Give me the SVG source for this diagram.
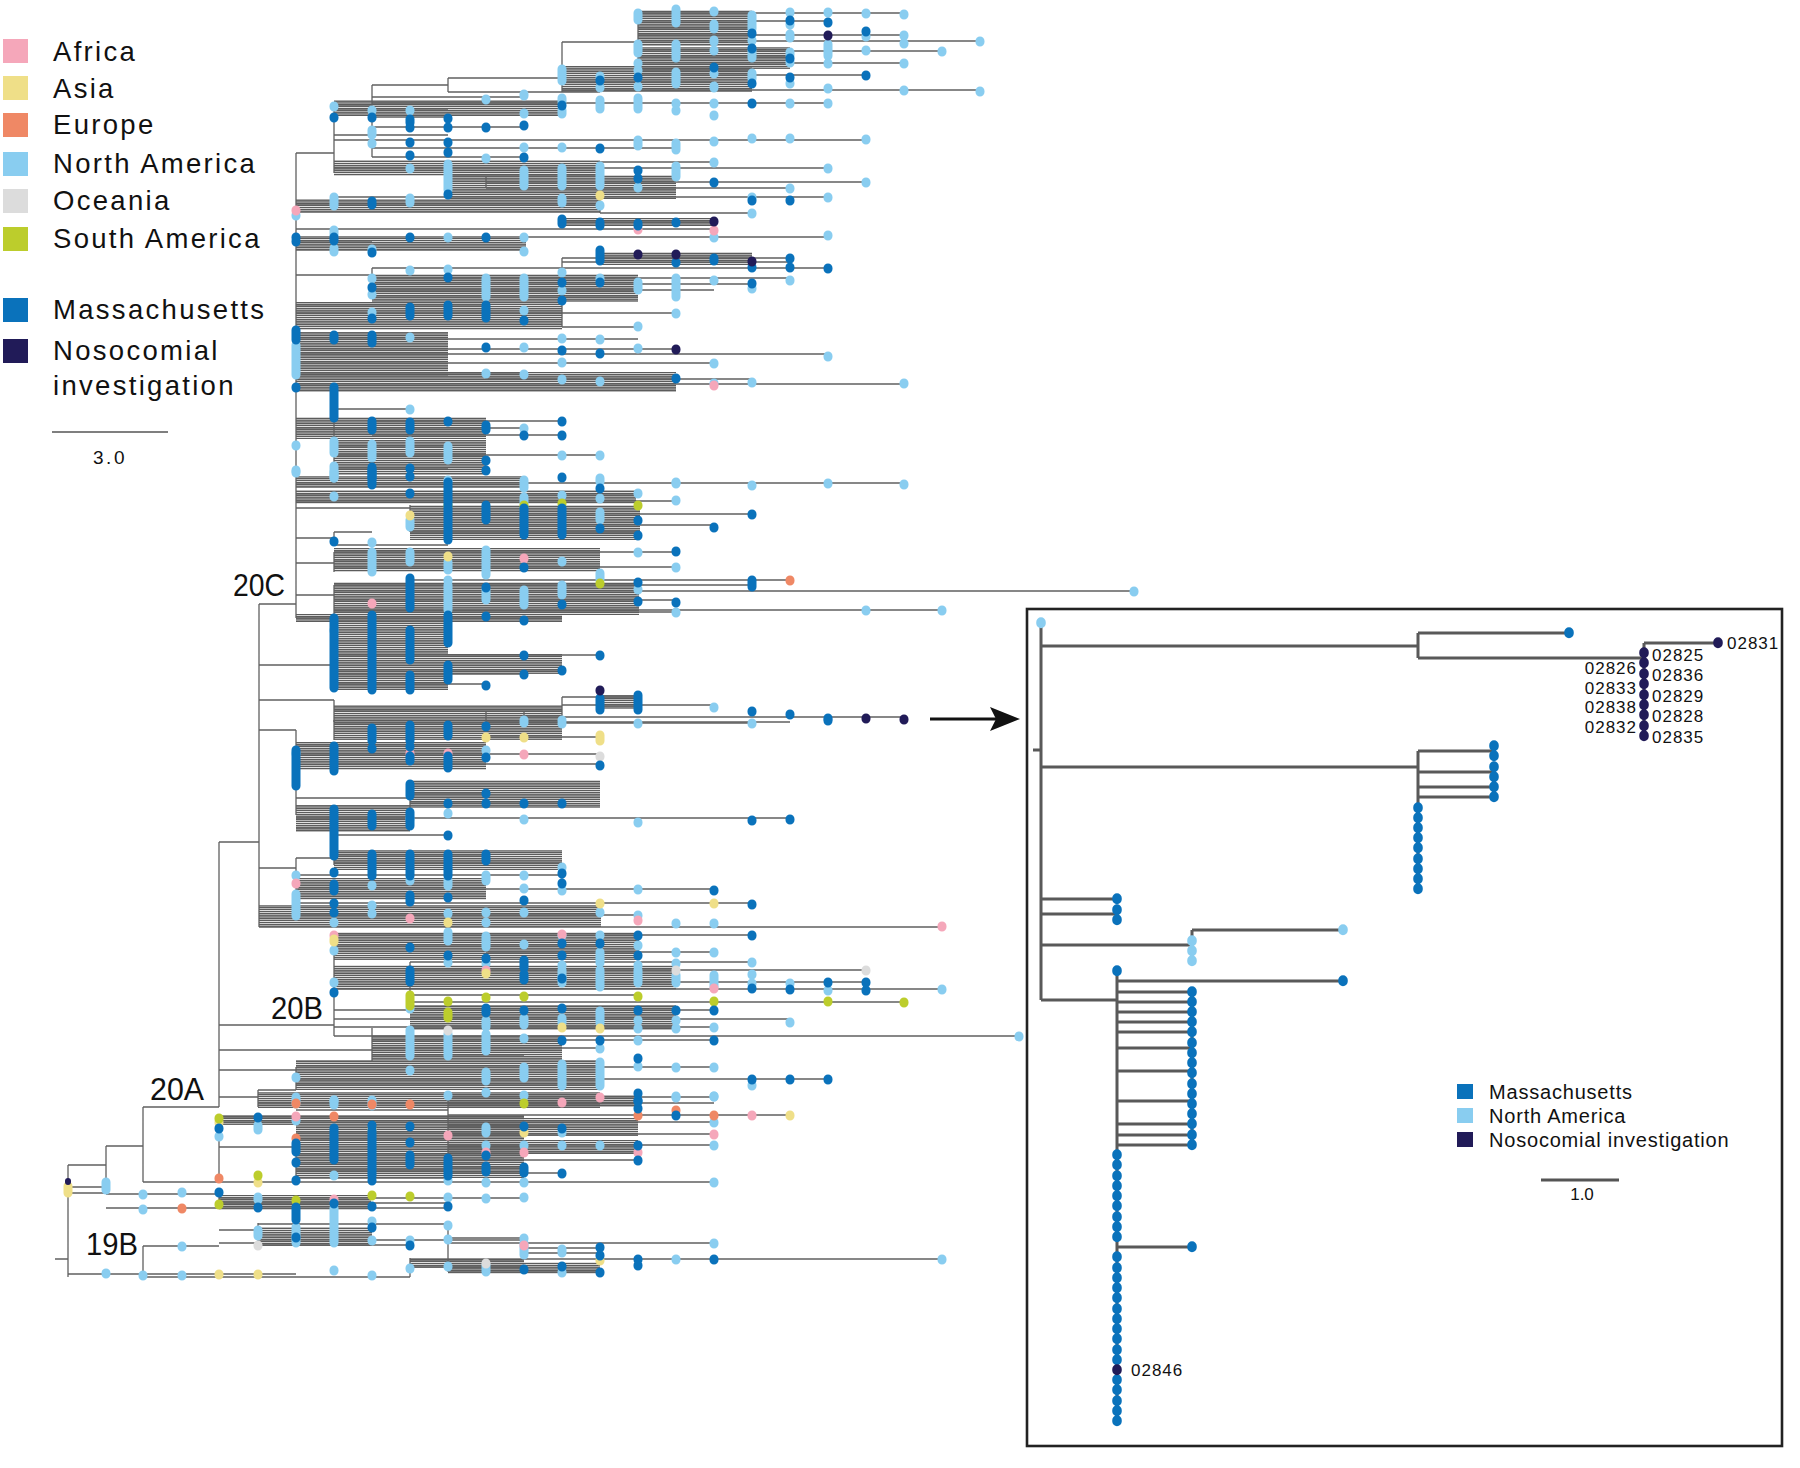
<svg xmlns="http://www.w3.org/2000/svg" width="1800" height="1468" viewBox="0 0 1800 1468">
<defs>
<pattern id="hp" width="8" height="2.2" patternUnits="userSpaceOnUse"><rect width="8" height="1.55" fill="#5c5c5c"/></pattern>
<style>
.br{fill:none;stroke:#606060;stroke-width:1.3}
.blk{fill:url(#hp)}
.d{fill:none;stroke-width:9;stroke-linecap:round}
.id{fill:none;stroke-width:9.5;stroke-linecap:round}
.n{stroke:#89cdf0}.m{stroke:#0a72bb}.x{stroke:#211b58}.a{stroke:#f5a7ba}.s{stroke:#efdf88}.e{stroke:#ef8865}.o{stroke:#dcdcdc}.g{stroke:#bccd2c}
.fn{fill:#89cdf0}.fm{fill:#0a72bb}.fx{fill:#211b58}.fa{fill:#f5a7ba}.fs{fill:#efdf88}.fe{fill:#ef8865}.fo{fill:#dcdcdc}.fg{fill:#bccd2c}
.lg{font-family:"Liberation Sans",Arial,sans-serif;font-size:27.5px;letter-spacing:2.3px;fill:#111}
.cl{font-family:"Liberation Sans",Arial,sans-serif;font-size:32px;fill:#111}
.ib{fill:none;stroke:#595959;stroke-width:3}
.lb{font-family:"Liberation Sans",Arial,sans-serif;font-size:17px;letter-spacing:1px;fill:#111}
.il{font-family:"Liberation Sans",Arial,sans-serif;font-size:20px;letter-spacing:0.8px;fill:#111}
</style>
</defs>
<rect width="1800" height="1468" fill="#fff"/>

<g id="legend">
<rect class="fa" x="3" y="39" width="25" height="24"/><text class="lg" x="53" y="61">Africa</text>
<rect class="fs" x="3" y="76" width="25" height="24"/><text class="lg" x="53" y="98">Asia</text>
<rect class="fe" x="3" y="113" width="25" height="24"/><text class="lg" x="53" y="134">Europe</text>
<rect class="fn" x="3" y="152" width="25" height="24"/><text class="lg" x="53" y="173">North America</text>
<rect class="fo" x="3" y="189" width="25" height="24"/><text class="lg" x="53" y="210">Oceania</text>
<rect class="fg" x="3" y="227" width="25" height="24"/><text class="lg" x="53" y="248">South America</text>
<rect class="fm" x="3" y="298" width="25" height="24"/><text class="lg" x="53" y="319">Massachusetts</text>
<rect class="fx" x="3" y="339" width="25" height="24"/><text class="lg" x="53" y="360">Nosocomial</text>
<text class="lg" x="53" y="395">investigation</text>
<path d="M52 432H168" stroke="#555" stroke-width="1.6"/>
<text x="110" y="464" text-anchor="middle" style="font-family:'Liberation Sans',Arial,sans-serif;font-size:19px;letter-spacing:2.5px" fill="#111">3.0</text>
</g>

<g id="dense">
<rect class="blk" x="638" y="10" width="114" height="36"/><rect class="blk" x="638" y="47" width="152" height="22"/><rect class="blk" x="562" y="66" width="190" height="26"/><rect class="blk" x="334" y="100" width="228" height="16"/><rect class="blk" x="334" y="160" width="266" height="16"/><rect class="blk" x="448" y="175" width="228" height="24"/><rect class="blk" x="296" y="199" width="304" height="14"/><rect class="blk" x="562" y="218" width="152" height="8"/>
<rect class="blk" x="296" y="238" width="230" height="12"/><rect class="blk" x="600" y="252" width="152" height="13"/><rect class="blk" x="372" y="274" width="266" height="28"/><rect class="blk" x="296" y="302" width="266" height="28"/><rect class="blk" x="296" y="332" width="152" height="44"/><rect class="blk" x="296" y="372" width="380" height="20"/><rect class="blk" x="296" y="417" width="190" height="22"/><rect class="blk" x="334" y="440" width="152" height="35"/><rect class="blk" x="296" y="476" width="230" height="12"/>
<rect class="blk" x="296" y="490" width="340" height="14"/><rect class="blk" x="410" y="505" width="230" height="35"/><rect class="blk" x="334" y="548" width="266" height="24"/><rect class="blk" x="334" y="582" width="305" height="33"/><rect class="blk" x="296" y="614" width="266" height="8"/><rect class="blk" x="334" y="620" width="114" height="70"/><rect class="blk" x="448" y="654" width="114" height="20"/><rect class="blk" x="600" y="695" width="40" height="14"/><rect class="blk" x="334" y="705" width="228" height="20"/>
<rect class="blk" x="334" y="720" width="228" height="20"/><rect class="blk" x="296" y="742" width="190" height="28"/><rect class="blk" x="410" y="780" width="190" height="28"/><rect class="blk" x="296" y="805" width="114" height="27"/><rect class="blk" x="334" y="850" width="228" height="20"/><rect class="blk" x="296" y="878" width="190" height="22"/><rect class="blk" x="259" y="905" width="342" height="22"/>
<rect class="blk" x="334" y="932" width="305" height="28"/><rect class="blk" x="334" y="965" width="342" height="25"/><rect class="blk" x="410" y="1005" width="266" height="25"/><rect class="blk" x="372" y="1035" width="190" height="25"/><rect class="blk" x="296" y="1060" width="304" height="30"/><rect class="blk" x="258" y="1092" width="342" height="16"/>
<rect class="blk" x="219" y="1115" width="305" height="10"/><rect class="blk" x="296" y="1125" width="228" height="53"/><rect class="blk" x="448" y="1095" width="192" height="12"/><rect class="blk" x="448" y="1118" width="190" height="18"/><rect class="blk" x="448" y="1140" width="190" height="14"/><rect class="blk" x="219" y="1195" width="152" height="15"/><rect class="blk" x="258" y="1227" width="114" height="19"/><rect class="blk" x="410" y="1258" width="114" height="10"/><rect class="blk" x="448" y="1262" width="152" height="12"/>
</g>

<g id="branches">
<path class="br" d="M296 153H334M334 106V173M334 106H372M372 85V118M372 85H448M448 78V92M448 78H562M562 42V92M562 42H638M638 10V80M638 13H904M638 21H828M638 28H752M638 35H904M638 41H980M638 51H942M638 57H790M638 63H904M638 70H752M638 75H866M562 82H714M562 90H980M448 92H600M372 97H524M372 103H828M334 110H448M372 117H448M372 127H524M334 135H448M334 140H866M372 148H676M372 157H524M600 162H714M334 168H828M448 176H600M486 182H866M486 188H790M334 197H828M296 205H600M600 213H752M562 222H714M296 229H714M296 237H828M600 162V213M486 176V188M562 218V222M372 97V157"/>
<path class="br" d="M296 241H372M296 250H524M562 258H790M562 262H790M562 268H828M372 268H562M372 278H790M372 284H752M372 290H714M372 297H638M296 305H486M296 313H676M562 327H638M296 339H638M296 349H676M296 354H828M296 363H714M296 373H524M486 379H752M296 384H904M334 409H410M372 421H562M296 428H524M372 435H562M334 447H448M334 455H600M334 468H448M296 483H904M372 268V297M562 258V268M334 405V468M372 421V435M486 373V379M296 275H372M562 305V327"/>
<path class="br" d="M296 495H638M296 501H676M410 514H752M410 525H714M410 532H638M410 505V532M296 508H410M296 538H334M334 532V545M334 532H372M334 545H448M296 563H334M334 552V572M334 552H676M334 560H562M334 567H676M296 595H334M334 585V615M410 580H790M410 585H752M410 575V590M334 585H410M334 591H1134M334 600H676M334 610H942M334 612H676M296 618H562M296 153V618M259 604H296M259 604V927M259 665H334M334 622V690M334 655H600M334 670H562M334 674H524M334 684H486M259 700H334M334 700V722M562 697H638M562 705H714M524 717H904M486 722H790M334 711H562M562 697V717M524 711V722M486 711V722"/>
<path class="br" d="M259 730H296M296 730V815M334 720V740M334 723H752M486 737H600M296 745H486M296 754H600M334 764H600M296 798H410M410 780V810M410 793H486M410 803H562M296 818H790M334 835H448M296 828H334M334 810V835M259 868H296M296 858V920M334 850V865M296 858H334M334 855H486M334 863H562M296 875H562M296 889H714M296 903H752M296 915H638M259 927H942"/>
<path class="br" d="M219 842V1107M219 842H259M219 1025H334M334 932V1036M334 935H752M334 945H600M486 952H714M410 962H752M410 970H866M410 982H866M334 989H942M410 995H638M410 1002H904M334 1010H714M334 1019H790M334 1027H714M334 1036H1019M410 962V1002M219 1050H372M372 1028V1062M410 1040H714M372 1048H600M372 1056H524M372 1040H410M219 1070H296M296 1067V1090M296 1067H714M410 1079H828M296 1085H600M296 1079H410M219 1097H258M258 1090V1107M258 1090H296M258 1103H714"/>
<path class="br" d="M55 1259H68M68 1165V1277M68 1165H106M106 1146V1194M106 1146H143M143 1107V1182M143 1107H219M143 1182H219M219 1117V1182M219 1117H524M219 1122H524M296 1132H524M219 1147H296M296 1135V1178M296 1140H448M296 1155H524M296 1163H486M296 1170H448M296 1178H448M219 1182H524M448 1097H714M448 1103H638M448 1115H790M448 1122H714M448 1126H562M448 1134H714M448 1145H714M448 1152H638M448 1160H638M448 1168H524M448 1173H562M448 1182H714M448 1097V1182M296 1110H448M68 1187H106M68 1193H106M106 1194H219M106 1208H219M219 1194V1208M219 1198H524M219 1203H448M219 1208H448M258 1224H448M258 1223V1245M219 1230H258M258 1240H524M258 1245H410M143 1246H219M219 1243H258M143 1246V1277M410 1261H524M410 1266H524M68 1274H296M143 1277H410M448 1238H524M448 1243H714M524 1248H600M524 1253H600M524 1259H942M448 1268H524M448 1272H600M448 1224V1272M410 1258V1277"/>
</g>

<g id="tips">
<path class="d n" d="M638 13V20M638 44V53M638 63v1M638 70v1M638 86v1M676 9V23M676 44V58M676 72V84M676 103v1M676 110v1M714 11v1M714 24V29M714 40v2M714 50v1M714 73v1M714 86v2M714 103v1M714 115v1M752 15V29M752 40v1M752 51V58M752 73V79M790 12v1M790 24v1M790 34V38M790 52V55M790 62v1M790 83v1M790 103v1M828 12v1M828 44V56M828 63v1M828 88v1M828 103v1M866 13v1M866 36v1M866 50v1M904 14v1M904 35v1M904 43v1M904 63v1M904 90v1M942 51v1M980 41v1M980 91v1M562 69V81M562 98V102M562 110V114M600 76v1M600 87v1M600 100V109M638 98V109M524 94V96M524 113v1M486 99v1M334 106v1M372 110v1M410 110v1M372 130V135M372 143v1M524 147v1M562 147v1M638 140V146M676 143V150M714 141v1M752 138v1M790 138v1M866 139v1M486 158v1M714 162v1M828 168v1M448 164V190M524 170V186M562 168V186M600 166V186M676 166V177M638 187v1M866 182v1M790 188v1M828 197v1M752 197v1M334 197V206M410 198V203M562 198V203M600 205v1M752 213v1M296 215v1M448 237v1M524 237v1M714 237v1M828 235v1M410 168v1M334 230V235"/>
<path class="d n" d="M334 248V252M372 249v1M524 251v1M410 270v1M448 269v1M372 278v1M372 294v1M486 278V297M524 278V297M562 272v1M562 290v1M600 278v1M638 282V290M676 278V297M714 280v1M752 288v1M790 280v1M372 312v1M524 310v1M676 313v1M638 326v1M296 345V375M410 337v1M562 338v1M600 339v1M524 347v1M638 348v1M828 356v1M562 362v1M714 363v1M486 373v1M524 374v1M562 379v1M600 381v1M714 383v1M752 382v1M904 383v1M410 409v1M524 428v1M296 445v1M334 441V453M372 444V458M410 441V453M448 446V460M562 455v1M600 455v1M296 470v1M334 466V478M448 480v1M600 481v1M676 483v1M752 485v1M828 483v1M904 484v1"/>
<path class="d n" d="M296 472v1M334 472V478M524 480V488M600 478v1M676 482v1M334 496v1M562 495v1M600 498v1M638 493v1M676 500v1M524 497V503M410 520V527M600 512V520M372 542v1M372 552V572M410 552V562M448 562V570M448 580v1M486 550V575M562 561v1M638 552v1M676 567v1M448 585V610M486 590V600M524 590V605M562 585V595M600 573V580M638 589v1M942 610v1M866 610v1M676 612v1M1134 591v1M334 630v1M714 707v1M562 720v1M524 720v1M296 753v1M486 750v1M524 722v1M562 723v1M638 723v1M752 723v1M448 813v1M410 818v1M524 819v1M638 822v1M562 867v1M524 875v1M296 875v1M372 885v1M410 880v1M448 880V886M486 875V881M524 888v1M562 890v1M638 889v1M296 894V916M334 922v1M372 905v1M372 913v1M448 913v1M486 912v1M486 922v1M524 912v1M600 912v1M638 915v1M676 923v1M714 923v1"/>
<path class="d n" d="M334 950v1M448 932V941M486 936V947M524 944v1M562 935v1M600 935v1M638 945v1M448 962v1M486 963v1M562 965v1M600 952V963M638 965v1M676 952v1M676 963v1M714 952v1M752 962v1M334 982v1M562 970V983M600 970V987M638 970V983M676 975V983M714 975V987M752 974v1M752 983v1M790 983v1M828 990v1M942 989v1M410 1008v1M486 1020V1027M524 1018V1025M562 1018V1023M600 1011V1023M638 1020v1M638 1028v1M676 1020v1M676 1028v1M714 1027v1M790 1022v1M410 1030V1056M448 1034V1056M486 1034V1051M524 1038v1M600 1048v1M638 1040v1M296 1077v1M410 1070v1M486 1072V1081M524 1067V1078M562 1064V1086M600 1062V1086M638 1066v1M676 1067v1M714 1067v1M752 1085v1M296 1097V1104M334 1100v1M448 1095v1M676 1096v1M714 1096v1M1019 1036v1"/>
<path class="d n" d="M106 1182V1190M143 1194v1M182 1192v1M258 1197V1200M334 1208V1220M448 1197v1M486 1198v1M524 1197v1M448 1225v1M372 1221v1M258 1230V1236M296 1227V1243M334 1215V1243M372 1240v1M410 1240v1M448 1239v1M524 1238v1M182 1246v1M334 1270v1M372 1275v1M410 1268v1M448 1266v1M486 1268V1272M106 1273v1M143 1275v1M182 1275v1M143 1209v1M486 1092v1M524 1095v1M676 1097v1M714 1096v1M714 1122v1M486 1127V1133M562 1132v1M486 1145v1M524 1145v1M562 1145v1M600 1145v1M714 1145v1M524 1182v1M714 1182v1M714 1243v1M524 1243V1255M562 1249V1253M676 1259v1M942 1259v1M486 1265V1270M562 1272v1M258 1125V1130M296 1120v1M334 1100V1105M372 1100V1106M219 1136v1M334 1175v1M448 1180v1M486 1182v1"/>
<path class="d a" d="M296 210v1M638 229v1M714 230v1M714 385v1M524 558v1M372 603v1M410 753v1M448 753v1M524 754v1M296 883v1M410 918v1M638 920v1M942 926v1M334 935v1M562 934v1M486 970v1M714 988v1M562 1102v1M600 1097v1M752 1115v1M714 1134v1M524 1152v1M638 1152v1M334 1199v1M524 1245v1M296 1116v1M448 1135v1M486 1152v1"/>
<path class="d s" d="M600 195v1M410 515v1M448 556v1M486 737v1M524 737v1M600 735V741M448 922v1M600 903v1M714 903v1M334 939V942M486 973v1M562 1027v1M600 1028v1M790 1115v1M524 1132v1M600 1260v1M219 1122v1M372 1129v1M258 1182v1M219 1274v1M258 1274v1M68 1186V1193"/>
<path class="d e" d="M790 580v1M296 1103v1M372 1104v1M638 1115v1M676 1110v1M714 1115v1M410 1104v1M334 1116v1M296 1138v1M182 1208v1M219 1178v1"/>
<path class="d o" d="M372 739v1M600 756v1M676 970v1M866 970v1M448 1030v1M486 1263v1M258 1245v1"/>
<path class="d g" d="M448 505v1M524 505v1M562 503v1M638 505v1M600 583v1M410 995V1006M448 1001v1M486 997v1M524 996v1M638 996v1M714 1001v1M828 1001v1M904 1002v1M448 1012V1018M524 1103v1M219 1118v1M258 1175v1M219 1204v1M296 1200v1M372 1195v1M410 1196v1"/>
<path class="d m" d="M752 33v1M752 48v1M752 83v1M790 20v1M790 58v1M790 77v1M828 22v1M866 31v1M866 75v1M714 67v1M638 77v1M600 80v1M562 105v1M752 103v1M334 117v1M372 117v1M410 119V123M448 118v1M410 127v1M448 127v1M486 127v1M524 125v1M410 142v1M448 142v1M600 148v1M410 155v1M448 152v1M524 157v1M638 170v1M638 178v1M714 182v1M448 194v1M752 200v1M790 200v1M372 201V205M562 219V224M600 222V226M638 223V226M676 222v1M296 237v1M334 237v1M410 237v1M486 237v1"/>
<path class="d m" d="M296 241v1M334 240v1M372 252v1M600 250V261M676 262v1M714 258V261M752 267v1M790 258v1M790 267v1M828 268v1M448 277v1M372 287v1M562 282v1M562 300v1M600 282v1M752 283v1M410 307V316M448 305V316M486 305V318M524 320v1M372 318v1M296 330V340M334 335V340M372 335V343M486 347v1M562 350v1M600 353v1M676 378v1M296 387v1M334 387V418M372 421V430M410 422V430M448 421v1M486 425V430M524 435v1M562 421v1M562 435v1M486 460v1M372 467V478M410 468v1M486 470v1"/>
<path class="d m" d="M372 470V485M410 476v1M448 482V490M562 477v1M600 488v1M410 493v1M448 490V540M486 505V520M524 508V535M562 508V535M600 528v1M638 520v1M638 535v1M752 514v1M714 527v1M334 541v1M524 567v1M676 551v1M410 578V608M448 615v1M486 587v1M486 616v1M524 620v1M562 604v1M638 582v1M638 601v1M676 602v1M752 580V587M334 618V688M372 615V690M410 630V660M410 675V690M448 617V643M448 665V680M524 655v1M600 655v1M562 670v1M524 674v1M486 685v1M600 698V710M638 695V710M752 711v1M790 714v1M828 718v1"/>
<path class="d m" d="M296 750V786M334 746V771M372 748v1M410 746v1M410 756V761M448 756V768M486 757v1M600 765v1M410 784V796M448 803v1M486 793v1M486 803v1M524 803v1M562 803v1M334 809V856M372 814V826M410 812V826M448 835v1M752 820v1M790 819v1M372 728V741M410 725V741M448 725V736M486 726v1M828 720v1M372 854V876M410 854V876M448 854V876M486 854V861M562 873v1M562 883v1M334 872v1M334 884V891M714 890v1M334 903v1M334 912v1M410 895V902M448 897v1M524 900v1M752 904v1"/>
<path class="d m" d="M410 947v1M562 943v1M600 943v1M638 935v1M752 935v1M448 955v1M486 958v1M524 960V968M562 955v1M638 955v1M334 992v1M410 970V982M524 974V980M562 978v1M752 988v1M790 989v1M828 982v1M866 982v1M866 990v1M486 1008V1013M524 1010v1M562 1008v1M638 1010v1M676 1010v1M714 1010v1M562 1040v1M600 1040v1M714 1040v1M638 1058v1M752 1079v1M790 1079v1M828 1079v1M638 1100v1M638 1108v1"/>
<path class="d m" d="M219 1192v1M258 1207v1M296 1207V1220M334 1203v1M372 1206v1M448 1206v1M372 1227v1M296 1237v1M410 1245v1M524 1269v1M638 1093v1M638 1101v1M676 1115v1M524 1126v1M562 1128v1M638 1145v1M486 1155v1M638 1160v1M486 1166V1172M524 1167V1173M562 1173v1M448 1158V1176M600 1247v1M600 1255v1M638 1259v1M714 1259v1M562 1266v1M600 1272v1M638 1265v1M258 1117v1M219 1128v1M372 1125v1M410 1126v1M296 1143V1152M296 1162v1M334 1128V1160M372 1130V1176M410 1142v1M410 1155V1165M296 1180v1M372 1180v1"/>
<path class="d x" d="M828 35v1M714 221v1M638 254v1M676 254v1M752 261v1M676 349v1M600 690v1M866 718v1M904 719v1"/>
<path d="M68 1181v1" fill="none" stroke="#211b58" stroke-width="6" stroke-linecap="round"/>
</g>

<g id="clade-labels">
<text class="cl" x="233" y="596" textLength="52" lengthAdjust="spacingAndGlyphs">20C</text>
<text class="cl" x="271" y="1019" textLength="52" lengthAdjust="spacingAndGlyphs">20B</text>
<text class="cl" x="150" y="1100" textLength="54" lengthAdjust="spacingAndGlyphs">20A</text>
<text class="cl" x="86" y="1255" textLength="52" lengthAdjust="spacingAndGlyphs">19B</text>
</g>

<g id="arrow">
<path d="M930 719H998" stroke="#111" stroke-width="3"/>
<path d="M1020 719L990 707L996 719L990 731Z" fill="#111"/>
</g>

<g id="inset">
<rect x="1027" y="609" width="755" height="837" fill="none" stroke="#222" stroke-width="2.6"/>
<g id="inset-branches">
<path class="ib" d="M1041 623V1000M1033 750H1041M1041 646H1418M1418 633V658M1418 633H1569M1418 658H1644M1644 643V736M1644 643H1718M1041 767H1418M1418 751V889M1418 751H1494M1494 746V756M1418 772H1494M1494 767V777M1418 787H1494M1418 797H1494M1041 899H1117M1041 914H1117M1117 910V920M1041 945H1192M1192 930V961M1192 930H1343M1041 1000H1117M1117 971V1421M1117 981H1343M1117 992H1192M1117 1002H1192M1117 1012H1192M1117 1022H1192M1117 1032H1192M1117 1048H1192M1117 1071H1192M1117 1101H1192M1117 1124H1192M1117 1135H1192M1117 1145H1192M1192 992V1145M1117 1247H1192"/>
</g>
<g id="inset-tips">
<path class="id n" d="M1041 622v1.5M1343 929v1.5M1192 940v1.5M1192 950v1.5M1192 960v1.5"/>
<path class="id m" d="M1569 632v1.5M1494 745v1.5M1494 755v1.5M1494 766v1.5M1494 776v1.5M1494 786v1.5M1494 796v1.5M1418 807v1.5M1418 817v1.5M1418 827v1.5M1418 837v1.5M1418 847v1.5M1418 858v1.5M1418 868v1.5M1418 878v1.5M1418 888v1.5M1117 898v1.5M1117 909v1.5M1117 919v1.5M1117 970v1.5M1343 980v1.5M1192 991v1.5M1192 1001v1.5M1192 1011v1.5M1192 1021v1.5M1192 1031v1.5M1192 1042v1.5M1192 1052v1.5M1192 1062v1.5M1192 1072v1.5M1192 1083v1.5M1192 1093v1.5M1192 1103v1.5M1192 1113v1.5M1192 1123v1.5M1192 1134v1.5M1192 1144v1.5M1117 1154v1.5M1117 1164v1.5M1117 1175v1.5M1117 1185v1.5M1117 1195v1.5M1117 1205v1.5M1117 1216v1.5M1117 1226v1.5M1117 1236v1.5M1192 1246v1.5M1117 1256v1.5M1117 1267v1.5M1117 1277v1.5M1117 1287v1.5M1117 1297v1.5M1117 1308v1.5M1117 1318v1.5M1117 1328v1.5M1117 1338v1.5M1117 1349v1.5M1117 1359v1.5M1117 1379v1.5M1117 1389v1.5M1117 1400v1.5M1117 1410v1.5M1117 1420v1.5"/>
<path class="id x" d="M1644 652v1.5M1644 662v1.5M1644 673v1.5M1644 683v1.5M1644 694v1.5M1644 704v1.5M1644 714v1.5M1644 725v1.5M1644 735v1.5M1718 642v1.5M1117 1369v1.5"/>
</g>
<g id="inset-labels">
<text class="lb" x="1727" y="649">02831</text>
<text class="lb" x="1652" y="661">02825</text>
<text class="lb" x="1652" y="681">02836</text>
<text class="lb" x="1652" y="702">02829</text>
<text class="lb" x="1652" y="722">02828</text>
<text class="lb" x="1652" y="743">02835</text>
<text class="lb" x="1637" y="674" text-anchor="end">02826</text>
<text class="lb" x="1637" y="694" text-anchor="end">02833</text>
<text class="lb" x="1637" y="713" text-anchor="end">02838</text>
<text class="lb" x="1637" y="733" text-anchor="end">02832</text>
<text class="lb" x="1131" y="1376">02846</text>
</g>
<g id="inset-legend">
<rect class="fm" x="1457" y="1084" width="16" height="15"/><text class="il" x="1489" y="1099">Massachusetts</text>
<rect class="fn" x="1457" y="1108" width="16" height="15"/><text class="il" x="1489" y="1123">North America</text>
<rect class="fx" x="1457" y="1132" width="16" height="15"/><text class="il" x="1489" y="1147">Nosocomial investigation</text>
<path d="M1541 1180H1619" stroke="#555" stroke-width="3"/>
<text x="1582" y="1200" text-anchor="middle" style="font-family:'Liberation Sans',Arial,sans-serif;font-size:17px" fill="#111">1.0</text>
</g>
</g>
</svg>
